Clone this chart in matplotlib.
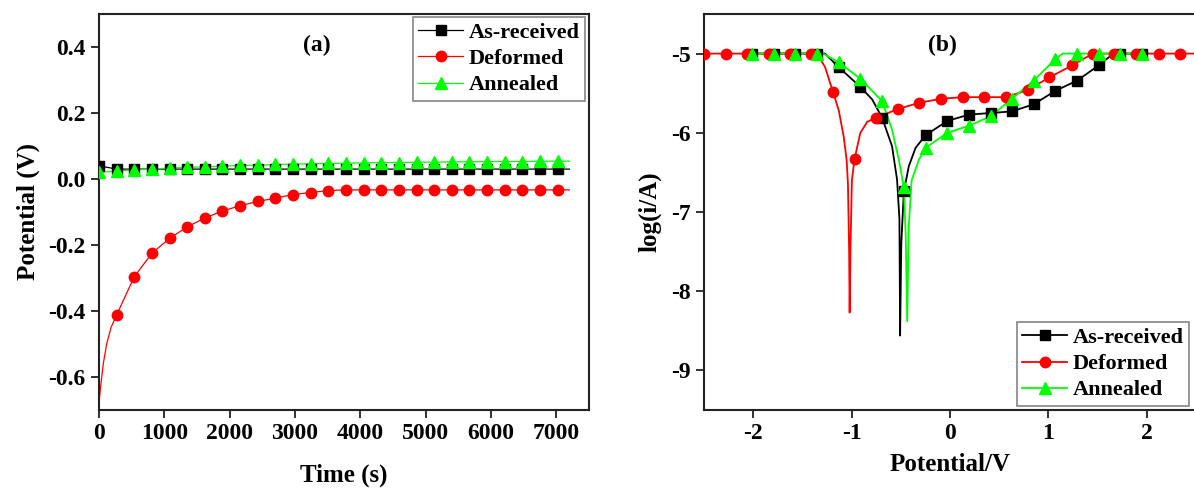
import numpy as np
import matplotlib
matplotlib.use("Agg")
import matplotlib.pyplot as plt
from matplotlib.ticker import FuncFormatter

plt.rcParams['font.family'] = ['Liberation Serif', 'DejaVu Serif']
plt.rcParams['font.weight'] = 'bold'

# ---------------- Panel (a): open-circuit potential vs time ----------------
time_mk = [0, 270, 540, 810, 1080, 1350, 1620, 1890, 2160, 2430, 2700, 2970, 3240,
           3510, 3780, 4050, 4320, 4590, 4860, 5130, 5400, 5670, 5940, 6210, 6480,
           6750, 7020]
asrec_a = [0.040, 0.030, 0.030, 0.030, 0.030, 0.030, 0.030, 0.030, 0.030, 0.030,
           0.030, 0.030, 0.030, 0.030, 0.030, 0.030, 0.030, 0.030, 0.030, 0.030,
           0.030, 0.030, 0.030, 0.030, 0.030, 0.030, 0.030]
deform_a = [-0.700, -0.412, -0.296, -0.225, -0.180, -0.145, -0.118, -0.097, -0.081,
            -0.068, -0.058, -0.047, -0.041, -0.035, -0.033, -0.033, -0.033, -0.033,
            -0.033, -0.033, -0.033, -0.033, -0.033, -0.033, -0.033, -0.033, -0.033]
anneal_a = [0.020, 0.024, 0.028, 0.030, 0.033, 0.035, 0.037, 0.039, 0.041, 0.042,
            0.044, 0.045, 0.046, 0.047, 0.048, 0.049, 0.050, 0.050, 0.051, 0.051,
            0.052, 0.052, 0.053, 0.053, 0.053, 0.054, 0.054]
# index of the first point that carries a marker
first_marker_a = [0, 1, 0]
# extra line-only points (curve between markers / tail)
deform_a_extra_t = [8, 26, 66, 117, 184, 7200]
deform_a_extra_v = [-0.662, -0.627, -0.560, -0.500, -0.450, -0.033]
asrec_a_extra_t = [7200]
asrec_a_extra_v = [0.030]
anneal_a_extra_t = [7200]
anneal_a_extra_v = [0.054]

# ---------------- Panel (b): polarization curves ----------------
asrec_b_x = [-2.01, -1.79, -1.575, -1.354, -1.133, -0.911, -0.69, -0.469, -0.248,
             -0.027, 0.194, 0.415, 0.629, 0.85, 1.071, 1.293, 1.51, 1.73, 1.956]
asrec_b_y = [-5.0, -5.0, -5.0, -5.0, -5.17, -5.42, -5.81, -6.74, -6.03, -5.85,
             -5.77, -5.75, -5.73, -5.64, -5.47, -5.34, -5.15, -5.0, -5.0]
asrec_b_extra_x = [-1.27, -0.79, -0.589, -0.538, -0.514, -0.507, -0.495, -0.418, -0.35, 1.66]
asrec_b_extra_y = [-5.0, -5.58, -6.17, -6.59, -7.09, -8.56, -7.4, -6.42, -6.19, -5.0]

deform_b_x = [-2.5, -2.28, -2.06, -1.84, -1.63, -1.41, -1.19, -0.97, -0.75, -0.53,
              -0.31, -0.09, 0.13, 0.35, 0.57, 0.79, 1.01, 1.24, 1.45, 1.67, 1.89,
              2.12, 2.34]
deform_b_y = [-5.0, -5.0, -5.0, -5.0, -5.0, -5.0, -5.48, -6.33, -5.81, -5.70,
              -5.62, -5.57, -5.55, -5.55, -5.55, -5.46, -5.30, -5.15, -5.0, -5.0,
              -5.0, -5.0, -5.0]
deform_b_extra_x = [-1.35, -1.27, -1.13, -1.08, -1.05, -1.037, -1.025, -1.02, -1.012,
                    -0.997, -0.911, -0.84, 2.5]
deform_b_extra_y = [-5.0, -5.17, -5.72, -6.05, -6.35, -6.65, -7.5, -8.27, -7.5,
                    -6.6, -6.0, -5.86, -5.0]

anneal_b_x = asrec_b_x
anneal_b_y = [-5.0, -5.0, -5.0, -5.0, -5.108, -5.317, -5.60, -6.69, -6.19, -6.0,
              -5.91, -5.79, -5.57, -5.34, -5.07, -5.0, -5.0, -5.0, -5.0]
anneal_b_extra_x = [-1.29, -0.589, -0.52, -0.45, -0.435, -0.42, -0.39, -0.316, 1.146]
anneal_b_extra_y = [-5.0, -5.96, -6.34, -7.3, -8.38, -7.2, -6.6, -6.34, -5.0]

labels = ['As-received', 'Deformed', 'Annealed']
colors = ['#000000', '#ff0000', '#00ff00']
markers = ['s', 'o', '^']
msizes = [6.5, 7.5, 8]


def merged(xm, ym, xe, ye):
    x = np.concatenate([np.asarray(xm, float), np.asarray(xe, float)])
    y = np.concatenate([np.asarray(ym, float), np.asarray(ye, float)])
    o = np.argsort(x, kind='stable')
    return x[o], y[o]


fig = plt.figure(figsize=(11.94, 4.88), dpi=100)
W, H = 1194, 488
ax1 = fig.add_axes([99 / W, 1 - 410 / H, (589 - 99) / W, (410 - 14) / H])
ax2 = fig.add_axes([704 / W, 1 - 410 / H, (1196 - 704) / W, (410 - 14) / H])

tick_fs = 17
label_fs = 18
leg_fs = 16

# ---- panel a ----
series_a = [
    (time_mk, asrec_a, asrec_a_extra_t, asrec_a_extra_v),
    (time_mk, deform_a, deform_a_extra_t, deform_a_extra_v),
    (time_mk, anneal_a, anneal_a_extra_t, anneal_a_extra_v),
]
handles_a = []
for (xm, ym, xe, ye), k0, lab, c, m, ms in zip(series_a, first_marker_a, labels,
                                               colors, markers, msizes):
    x, y = merged(xm, ym, xe, ye)
    ax1.plot(x, y, color=c, lw=0.9, zorder=2)
    ax1.plot(xm[k0:], ym[k0:], linestyle='none', marker=m, ms=ms, color=c, zorder=3)
    h, = ax1.plot([], [], color=c, lw=0.9, marker=m, ms=ms)
    handles_a.append(h)

ax1.set_xlim(0, 7500)
ax1.set_ylim(-0.7, 0.5)
ax1.set_xticks([0, 1000, 2000, 3000, 4000, 5000, 6000, 7000])
ax1.set_yticks([-0.6, -0.4, -0.2, 0.0, 0.2, 0.4])
ax1.yaxis.set_major_formatter(FuncFormatter(lambda v, p: f"{v:.1f}"))
ax1.set_xlabel('Time (s)', fontsize=label_fs, fontweight='bold', labelpad=14)
ax1.set_ylabel('Potential (V)', fontsize=label_fs, fontweight='bold', labelpad=6)
ax1.text(0.445, 0.92, '(a)', transform=ax1.transAxes, ha='center', va='center',
         fontsize=17, fontweight='bold')
leg1 = ax1.legend(handles_a, labels, loc='upper right',
                  bbox_to_anchor=(585 / W, 1 - 17 / H), bbox_transform=fig.transFigure,
                  fontsize=leg_fs, frameon=True, fancybox=False, borderpad=0.25,
                  labelspacing=0.25, handlelength=2.0, handletextpad=0.25,
                  borderaxespad=0)
leg1.get_frame().set_edgecolor('#666666')
leg1.get_frame().set_linewidth(1.2)

# ---- panel b ----
series_b = [
    (asrec_b_x, asrec_b_y, asrec_b_extra_x, asrec_b_extra_y),
    (deform_b_x, deform_b_y, deform_b_extra_x, deform_b_extra_y),
    (anneal_b_x, anneal_b_y, anneal_b_extra_x, anneal_b_extra_y),
]
handles_b = []
for (xm, ym, xe, ye), lab, c, m, ms in zip(series_b, labels, colors, markers, msizes):
    x, y = merged(xm, ym, xe, ye)
    ax2.plot(x, y, color=c, lw=1.3, zorder=2)
    ax2.plot(xm, ym, linestyle='none', marker=m, ms=ms, color=c, zorder=3)
    h, = ax2.plot([], [], color=c, lw=1.3, marker=m, ms=ms)
    handles_b.append(h)

ax2.set_xlim(-2.5, 2.5)
ax2.set_ylim(-9.5, -4.5)
ax2.set_xticks([-2, -1, 0, 1, 2])
ax2.set_yticks([-9, -8, -7, -6, -5])
ax2.xaxis.set_major_formatter(FuncFormatter(lambda v, p: f"{v:.0f}"))
ax2.yaxis.set_major_formatter(FuncFormatter(lambda v, p: f"{v:.0f}"))
ax2.set_xlabel('Potential/V', fontsize=label_fs, fontweight='bold', labelpad=6)
ax2.set_ylabel('log(i/A)', fontsize=label_fs, fontweight='bold', labelpad=7)
ax2.text((942 - 704) / (1196 - 704), 0.92, '(b)', transform=ax2.transAxes,
         ha='center', va='center', fontsize=17, fontweight='bold')
leg2 = ax2.legend(handles_b, labels, loc='lower right',
                  bbox_to_anchor=(1189 / W, 1 - 406 / H), bbox_transform=fig.transFigure,
                  fontsize=leg_fs, frameon=True, fancybox=False, borderpad=0.25,
                  labelspacing=0.25, handlelength=2.0, handletextpad=0.25,
                  borderaxespad=0)
leg2.get_frame().set_edgecolor('#666666')
leg2.get_frame().set_linewidth(1.2)

for ax in (ax1, ax2):
    for s in ax.spines.values():
        s.set_linewidth(1.5)
        s.set_color('#222222')
    ax.tick_params(direction='out', length=6, width=1.3, labelsize=tick_fs,
                   top=False, right=False, color='#222222')
    for t in ax.get_xticklabels() + ax.get_yticklabels():
        t.set_fontweight('bold')

fig.savefig('out.png', dpi=100)
